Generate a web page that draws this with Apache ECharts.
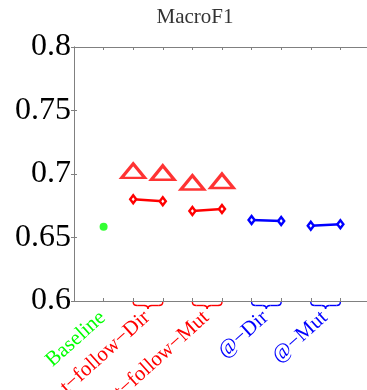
<!DOCTYPE html>
<html>
<head>
<meta charset="utf-8">
<script src="https://cdn.jsdelivr.net/npm/echarts@6/dist/echarts.min.js"></script>
<style>
  html, body { margin: 0; padding: 0; background: #fff; }
  #chart { width: 367px; height: 390px; }
</style>
</head>
<body>
<div id="chart"></div>
<script>
// category labels and where they sit on the slot axis
const categories = ['Baseline', 't\u2212follow\u2212Dir', 't\u2212follow\u2212Mut', '@\u2212Dir', '@\u2212Mut'];
const labelPos = [1, 2.5, 4.5, 6.5, 8.5];
const yTicks = [0.6, 0.65, 0.7, 0.75, 0.8];

// values
const baseline = [[1, 0.6585]];
const triangles = [[2, 0.7025], [3, 0.701], [4, 0.6933], [5, 0.6945]];
const followDir = [[2, 0.6801], [3, 0.6785]];
const followMut = [[4, 0.6709], [5, 0.6724]];
const atDir = [[6, 0.6638], [7, 0.663]];
const atMut = [[8, 0.6593], [9, 0.6604]];
const braceSpans = [[2, 3], [4, 5], [6, 7], [8, 9]];

const GREEN = '#00ff00', RED = '#ff0000', BLUE = '#0000ff';
const labelColors = [GREEN, RED, RED, BLUE, BLUE];
const braceColors = [RED, RED, BLUE, BLUE];
const SERIF = '"Liberation Serif", "Times New Roman", serif';
const AXIS = '#808080';

const chart = echarts.init(document.getElementById('chart'));

function axisX(pos) {
  return {
    type: 'value', position: pos, min: 0, max: 9.9, interval: 1,
    axisLine: {lineStyle: {color: AXIS, width: 1}},
    axisTick: {show: true, inside: true, length: 3, lineStyle: {color: AXIS}},
    axisLabel: {show: false},
    splitLine: {show: false}
  };
}

function diamondLine(data, color) {
  return {
    type: 'line', data: data,
    symbol: 'diamond', symbolSize: [6, 8],
    lineStyle: {color: color, width: 2.5},
    itemStyle: {color: '#fff', borderColor: color, borderWidth: 2.5},
    z: 3
  };
}

const option = {
  animation: false,
  title: {
    text: 'MacroF1', left: 190, top: 2, textAlign: 'center',
    textStyle: {fontFamily: SERIF, fontSize: 21, fontWeight: 'normal', color: '#333'}
  },
  grid: {left: 74, right: 0, top: 47, bottom: 89},
  xAxis: [axisX('bottom'), axisX('top')],
  yAxis: [{
    type: 'value', min: 0.6, max: 0.8, interval: 0.05, position: 'left',
    axisLine: {show: true, lineStyle: {color: AXIS, width: 1}},
    axisTick: {show: true, inside: true, length: 3, lineStyle: {color: AXIS}},
    axisLabel: {
      margin: 3, color: '#000', fontFamily: SERIF, fontSize: 32,
      formatter: v => String(+v.toFixed(2))
    },
    splitLine: {show: false}
  }, {
    type: 'value', min: 0.6, max: 0.8, interval: 0.05, position: 'right',
    axisLine: {show: true, lineStyle: {color: AXIS, width: 1}},
    axisTick: {show: true, inside: true, length: 3, lineStyle: {color: AXIS}},
    axisLabel: {show: false},
    splitLine: {show: false}
  }],
  series: [
    {
      type: 'scatter', data: baseline, symbol: 'circle', symbolSize: 8,
      itemStyle: {color: GREEN}
    },
    {
      type: 'scatter', data: triangles, symbol: 'triangle', symbolSize: [23, 14],
      itemStyle: {color: '#fff', borderColor: RED, borderWidth: 3}
    },
    diamondLine(followDir, RED),
    diamondLine(followMut, RED),
    diamondLine(atDir, BLUE),
    diamondLine(atMut, BLUE),
    {
      // curly braces under each pair of slots
      type: 'custom', clip: false, silent: true,
      data: braceSpans,
      renderItem: function (params, api) {
        const a = api.coord([api.value(0), 0.6]);
        const b = api.coord([api.value(1), 0.6]);
        const y0 = a[1] + 1, h = 7, xm = (a[0] + b[0]) / 2, r = 4;
        const c = braceColors[params.dataIndex];
        const st = {stroke: c, lineWidth: 1.4, fill: null};
        const ym = y0 + h * 0.5;
        return {
          type: 'group',
          children: [
            {type: 'bezierCurve', shape: {x1: a[0], y1: y0, x2: a[0] + r, y2: ym, cpx1: a[0], cpy1: ym}, style: st},
            {type: 'line', shape: {x1: a[0] + r, y1: ym, x2: xm - r, y2: ym}, style: st},
            {type: 'bezierCurve', shape: {x1: xm - r, y1: ym, x2: xm, y2: y0 + h, cpx1: xm, cpy1: ym}, style: st},
            {type: 'bezierCurve', shape: {x1: xm, y1: y0 + h, x2: xm + r, y2: ym, cpx1: xm, cpy1: ym}, style: st},
            {type: 'line', shape: {x1: xm + r, y1: ym, x2: b[0] - r, y2: ym}, style: st},
            {type: 'bezierCurve', shape: {x1: b[0] - r, y1: ym, x2: b[0], y2: y0, cpx1: b[0], cpy1: ym}, style: st}
          ]
        };
      }
    },
    {
      // rotated category labels
      type: 'custom', clip: false, silent: true,
      data: labelPos.map((x, i) => [x, 0.6, i]),
      renderItem: function (params, api) {
        const p = api.coord([api.value(0), api.value(1)]);
        const i = params.dataIndex;
        return {
          type: 'text',
          x: p[0] - 8, y: p[1] + 6,
          rotation: 42 * Math.PI / 180,
          style: {
            text: categories[i], fill: labelColors[i],
            font: '21px ' + SERIF, align: 'right', verticalAlign: 'top'
          }
        };
      }
    }
  ]
};

chart.setOption(option);
</script>
</body>
</html>
